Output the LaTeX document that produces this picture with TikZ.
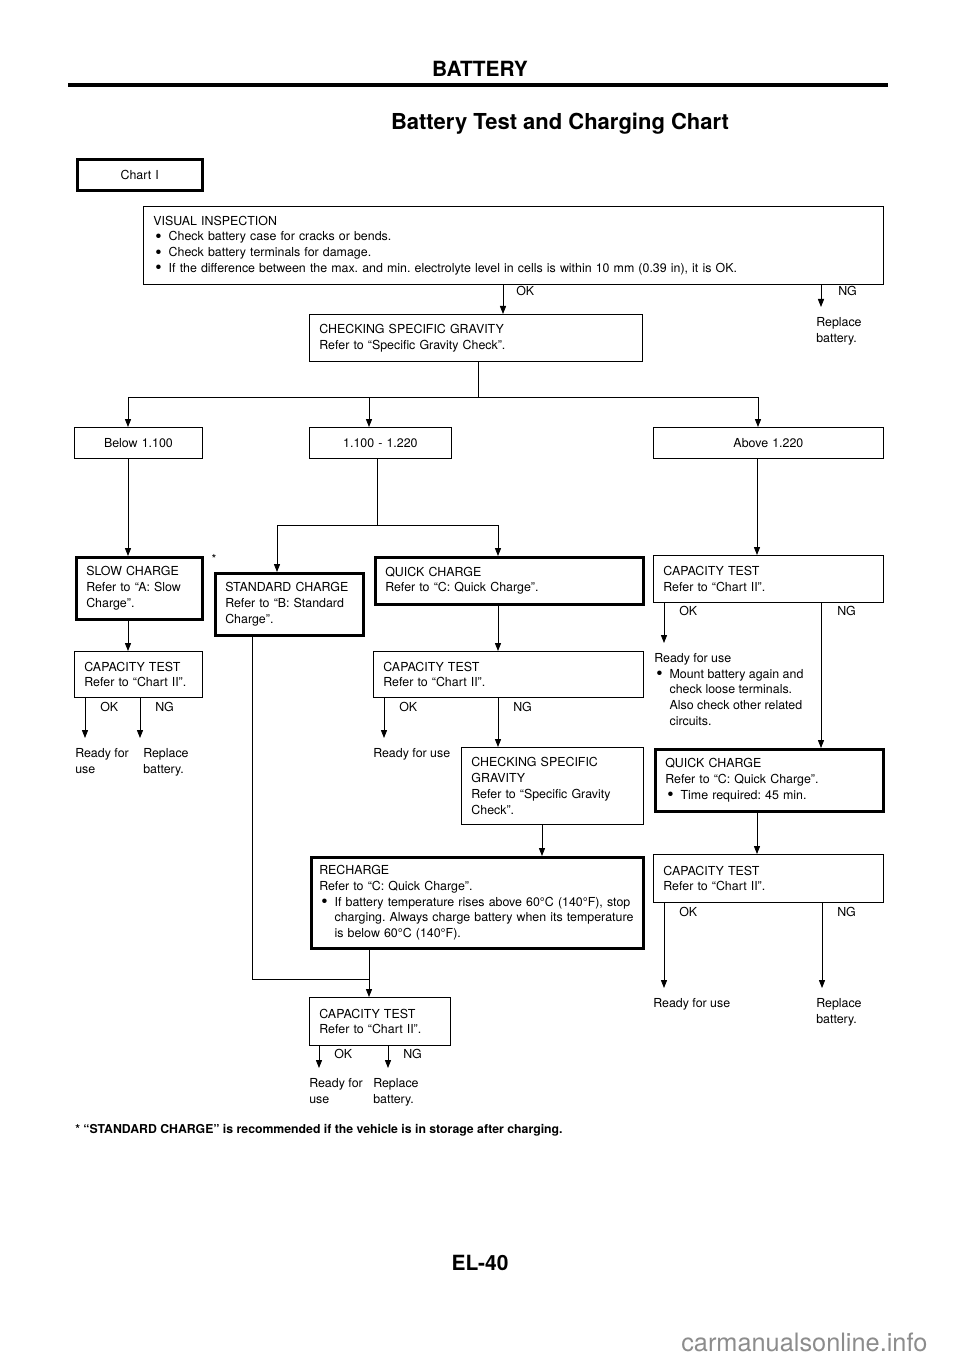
\documentclass[tikz,border=0pt]{standalone}
\usepackage{fontspec}
\setmainfont{TeX Gyre Heros}
\usepackage{graphicx}
\usepackage{tikz}
\usetikzlibrary{arrows.meta}
\usetikzlibrary{calc}
\usetikzlibrary{positioning}

\newcommand\bul{\makebox[11.5pt][l]{\hspace{1.5pt}\raisebox{-1.2pt}{\scalebox{1.45}{\textbullet}}}}
\newcommand\ind{\hspace*{11.5pt}}

\tikzset{
  box/.style 2 args={draw, line width=0.6pt, anchor=north west, align=left,
    inner xsep=7.5pt, inner ysep=0pt, text width=#1, minimum height=#2},
  cbox/.style 2 args={box={#1}{#2}, align=center},
  heavy/.style={line width=1.9pt},
  res/.style={anchor=north west, align=left, inner xsep=0pt, inner ysep=7.5pt},
  lbl/.style={anchor=west, inner sep=0pt},
  arr/.style={line width=0.6pt, -{Triangle[length=6pt,width=4.6pt]}},
  ln/.style={line width=0.6pt}
}

\begin{document}
\begin{tikzpicture}[x=0.75pt, y=-0.75pt, font=\fontsize{9.3}{11.8}\selectfont\frenchspacing]
            \useasboundingbox (0,0) rectangle (960,1358);

            % page head
            \draw (480,69) node[font=\bfseries\fontsize{15.7}{18}\selectfont] (hdr) {BATTERY};
            \draw[line width=2.3pt] (68,85) -- (888,85);
            \draw (560,124) node[font=\bfseries\fontsize{16.5}{19}\selectfont] (title) {Battery Test and Charging Chart};

            % boxes
            \draw (76,158) node[cbox={78.75pt}{23.25pt}, heavy]              (chart) {Chart I};
            \draw (143,206) node[box={540pt}{58.5pt}]                       (vi) {VISUAL INSPECTION\\
              \bul Check battery case for cracks or bends.\\
              \bul Check battery terminals for damage.\\
              \bul If the difference between the max. and min. electrolyte level in cells is within 10 mm (0.39 in), it is OK.};
            \draw (309,314) node[box={234.75pt}{35.25pt}]                   (csg) {CHECKING SPECIFIC GRAVITY\\Refer to “Specific Gravity Check”.};
            \draw (74,427) node[cbox={81pt}{23.25pt}]                       (below) {Below 1.100};
            \draw (309,427) node[cbox={91.5pt}{23.25pt}]                    (mid) {1.100 - 1.220};
            \draw (653,427) node[cbox={157.5pt}{23.25pt}]                   (above) {Above 1.220};
            \draw (75,556) node[box={79.5pt}{46.5pt}, heavy]                (slow) {SLOW CHARGE\\Refer to “A: Slow\\Charge”.};
            \draw (214,572) node[box={96pt}{46.5pt}, heavy]                 (std) {STANDARD CHARGE\\Refer to “B: Standard\\Charge”.};
            \draw (374,556) node[box={186pt}{35.25pt}, heavy]               (qca) {QUICK CHARGE\\Refer to “C: Quick Charge”.};
            \draw (653,555) node[box={157.5pt}{35.25pt}]                    (ctr) {CAPACITY TEST\\Refer to “Chart II”.};
            \draw (74,651) node[box={81pt}{34.5pt}]                         (cta) {CAPACITY TEST\\Refer to “Chart II”.};
            \draw (373,651) node[box={187.5pt}{34.5pt}]                     (ctb) {CAPACITY TEST\\Refer to “Chart II”.};
            \draw (461,747) node[box={121.5pt}{57.75pt}]                    (csgb) {CHECKING SPECIFIC\\GRAVITY\\Refer to “Specific Gravity\\Check”.};
            \draw (654,748) node[box={156pt}{46.5pt}, heavy]                (qcb) {QUICK CHARGE\\Refer to “C: Quick Charge”.\\\bul Time required: 45 min.};
            \draw (310,856) node[box={237pt}{68.25pt}, heavy, inner xsep=6pt] (rech) {RECHARGE\\Refer to “C: Quick Charge”.\\
              \mbox{\bul If battery temperature rises above 60°C (140°F), stop}\\
              \mbox{\ind charging. Always charge battery when its temperature}\\
              \ind is below 60°C (140°F).};
            \draw (653,854) node[box={157.5pt}{36pt}]                       (ctrb) {CAPACITY TEST\\Refer to “Chart II”.};
            \draw (309,997) node[box={90.75pt}{36pt}]                       (ctc) {CAPACITY TEST\\Refer to “Chart II”.};
            \draw (214,559) node[inner sep=0pt]                             (star) {*};

            % results
            \draw (816,307) node[res]                                       (repa) {Replace\\battery.};
            \draw (75,738) node[res]                                        (rdya) {Ready for\\use};
            \draw (143,738) node[res]                                       (repb) {Replace\\battery.};
            \draw (373,738) node[res]                                       (rdyb) {Ready for use};
            \draw (654,643) node[res]                                       (rdyr) {Ready for use\\
              \bul Mount battery again and\\\ind check loose terminals.\\\ind Also check other related\\\ind circuits.};
            \draw (653,988) node[res]                                       (rdyrb) {Ready for use};
            \draw (816,988) node[res]                                       (reprb) {Replace\\battery.};
            \draw (309,1068) node[res]                                      (rdyc) {Ready for\\use};
            \draw (373,1068) node[res]                                      (repc) {Replace\\battery.};

            % OK / NG
            \draw (516,291) node[lbl] (okvi) {OK};
            \draw (838,291) node[lbl] (ngvi) {NG};
            \draw (100,707) node[lbl] (oka) {OK};
            \draw (155,707) node[lbl] (nga) {NG};
            \draw (399,707) node[lbl] (okb) {OK};
            \draw (513,707) node[lbl] (ngb) {NG};
            \draw (679,611) node[lbl] (okr) {OK};
            \draw (837,611) node[lbl] (ngr) {NG};
            \draw (679,912) node[lbl] (okrb) {OK};
            \draw (837,912) node[lbl] (ngrb) {NG};
            \draw (334,1054) node[lbl] (okc) {OK};
            \draw (403,1054) node[lbl] (ngc) {NG};

            % branch points
            \coordinate (bara) at (478,397);
            \coordinate (barb) at (377,525);
            \coordinate (join) at (369,979);

            \draw[arr] (vi.south -| 503,0) -- (csg.north -| 503,0);
            \draw[arr] (vi.south -| 821,0) -- (repa.north -| 821,0);
            \draw[ln] (csg.south -| bara) -- (bara);
            \draw[arr] (bara) -| (below.north -| 128,0);
            \draw[arr] (bara) -| (mid.north -| 369,0);
            \draw[arr] (bara) -| (above.north -| 758,0);
            \draw[arr] (below.south -| 128,0) -- (slow.north -| 128,0);
            \draw[arr] (slow.south -| 128,0) -- (cta.north -| 128,0);
            \draw[arr] (cta.south -| 85,0) -- (rdya.north -| 85,0);
            \draw[arr] (cta.south -| 140,0) -- (repb.north -| 140,0);
            \draw[ln] (mid.south -| barb) -- (barb);
            \draw[arr] (barb) -| (std.north -| 277,0);
            \draw[arr] (barb) -| (qca.north -| 498,0);
            \draw[arr] (qca.south -| 498,0) -- (ctb.north -| 498,0);
            \draw[arr] (ctb.south -| 384,0) -- (rdyb.north -| 384,0);
            \draw[arr] (ctb.south -| 498,0) -- (csgb.north -| 498,0);
            \draw[arr] (csgb.south -| 542,0) -- (rech.north -| 542,0);
            \draw[ln] (std.south -| 252,0) |- (join);
            \draw[arr] (rech.south -| join) -- (ctc.north -| join);
            \draw[arr] (ctc.south -| 319,0) -- (rdyc.north -| 319,0);
            \draw[arr] (ctc.south -| 388,0) -- (repc.north -| 388,0);
            \draw[arr] (above.south -| 757,0) -- (ctr.north -| 757,0);
            \draw[arr] (ctr.south -| 664,0) -- (rdyr.north -| 664,0);
            \draw[arr] (ctr.south -| 821,0) -- (qcb.north -| 821,0);
            \draw[arr] (qcb.south -| 757,0) -- (ctrb.north -| 757,0);
            \draw[arr] (ctrb.south -| 664,0) -- (rdyrb.north -| 664,0);
            \draw[arr] (ctrb.south -| 822,0) -- (reprb.north -| 822,0);

            % foot
            \draw (75,1130) node[anchor=west, inner sep=0pt, font=\bfseries\fontsize{9.2}{11}\selectfont] (note) {* “STANDARD CHARGE” is recommended if the vehicle is in storage after charging.};
            \draw (480,1263) node[font=\bfseries\fontsize{15.7}{18}\selectfont] (page) {EL-40};
            \draw (681,1342) node[anchor=west, inner sep=0pt, text=black!45, font=\fontsize{19}{23}\selectfont] (mark) {carmanualsonline.info};

\end{tikzpicture}
\end{document}
